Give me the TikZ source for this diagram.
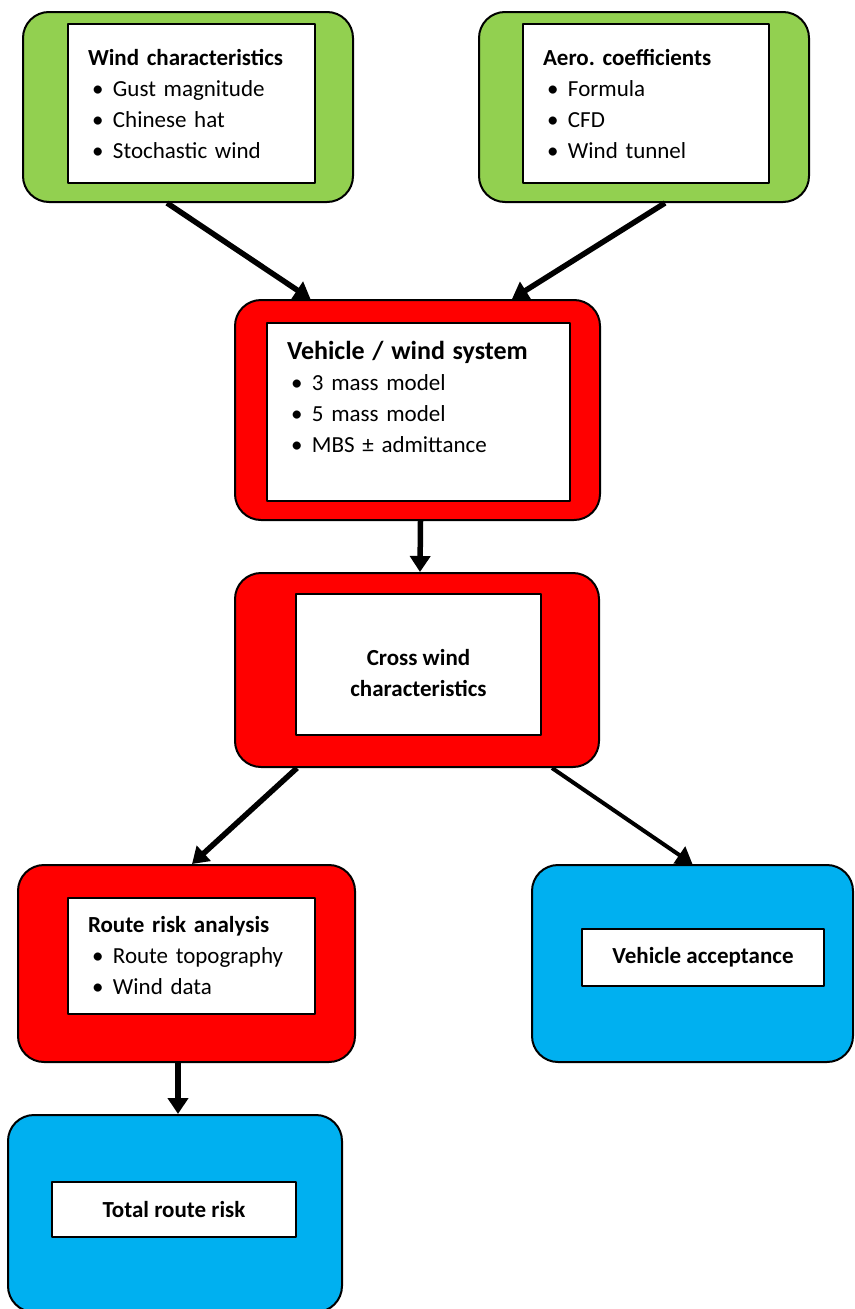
\documentclass[tikz,border=0pt]{standalone}
\usepackage{fontspec}
\setmainfont{Carlito}
\usetikzlibrary{arrows.meta}
\definecolor{boxgreen}{RGB}{146,208,80}
\definecolor{boxred}{RGB}{255,0,0}
\definecolor{boxblue}{RGB}{0,176,240}
\newcommand{\bitem}[1]{\makebox[25pt][l]{\hspace{4pt}\textbullet}#1}
\frenchspacing

\begin{document}
\begin{tikzpicture}[x=1pt,y=-1pt,line join=round,
  outerbox/.style={draw=black,line width=2pt,rounded corners=26pt,inner sep=0pt},
  listbox/.style={draw=black,fill=white,line width=2.5pt,inner xsep=20pt,inner ysep=0pt,align=left,font=\fontsize{23}{31}\selectfont},
  namebox/.style={draw=black,fill=white,line width=2.5pt,inner sep=0pt,align=center,font=\fontsize{23}{31}\selectfont\bfseries},
  flow/.style={draw=black,line width=5.5pt,-{Triangle[length=16pt,width=20pt]}}]
\useasboundingbox (0,0) rectangle (854,1309);
\node[outerbox,fill=boxgreen,minimum width=330pt,minimum height=190pt] (windO) at (188,107) {};
\node[listbox,text width=207pt,minimum height=159pt] (windI) at (191.5,103.5) {\textbf{Wind characteristics}\\ \bitem{Gust magnitude}\\ \bitem{Chinese hat}\\ \bitem{Stochastic wind}};
\node[outerbox,fill=boxgreen,minimum width=330pt,minimum height=190pt] (aeroO) at (644,107) {};
\node[listbox,text width=206pt,minimum height=159pt] (aeroI) at (646,103.5) {\textbf{Aero. coefficients}\\ \bitem{Formula}\\ \bitem{CFD}\\ \bitem{Wind tunnel}};
\node[outerbox,fill=boxred,minimum width=365pt,minimum height=220pt] (vehO) at (417.5,410) {};
\node[listbox,text width=263pt,minimum height=178pt] (vehI) at (418.5,412) {{\fontsize{26}{31}\selectfont\bfseries Vehicle / wind system}\\ \bitem{3 mass model}\\ \bitem{5 mass model}\\ \bitem{MBS ± admittance}\\ \mbox{}};
\node[outerbox,fill=boxred,minimum width=364pt,minimum height=194pt] (crossO) at (417,670) {};
\node[namebox,minimum width=245pt,minimum height=141pt] (crossI) at (418.5,664.5) {\rule{0pt}{33pt}Cross wind\\ characteristics};
\node[outerbox,fill=boxred,minimum width=337pt,minimum height=197pt] (routeO) at (186.5,963.5) {};
\node[listbox,text width=207pt,minimum height=116pt] (routeI) at (191.5,956) {\textbf{Route risk analysis}\\ \bitem{Route topography}\\ \bitem{Wind data}};
\node[outerbox,fill=boxblue,minimum width=321pt,minimum height=197pt] (accO) at (692.5,963.5) {};
\node[namebox,minimum width=242pt,minimum height=57pt] (accI) at (703,957.5) {Vehicle acceptance};
\node[outerbox,fill=boxblue,minimum width=334pt,minimum height=197pt] (totalO) at (175,1213.5) {};
\node[namebox,minimum width=244pt,minimum height=55pt] (totalI) at (174,1209.5) {Total route risk};
\draw[flow] ([xshift=-21pt]windO.south) -- ([xshift=-107pt]vehO.north);
\draw[flow] ([xshift=21pt]aeroO.south) -- ([xshift=94.5pt]vehO.north);
\draw[flow] ([xshift=3pt]vehO.south) -- ([xshift=3pt]crossO.north);
\draw[flow] ([xshift=-120pt]crossO.south) -- ([xshift=5.5pt]routeO.north);
\draw[flow,line width=4pt] ([xshift=135pt]crossO.south) -- (accO.north);
\draw[flow] ([xshift=-8.5pt]routeO.south) -- ([xshift=3pt]totalO.north);
\end{tikzpicture}
\end{document}
